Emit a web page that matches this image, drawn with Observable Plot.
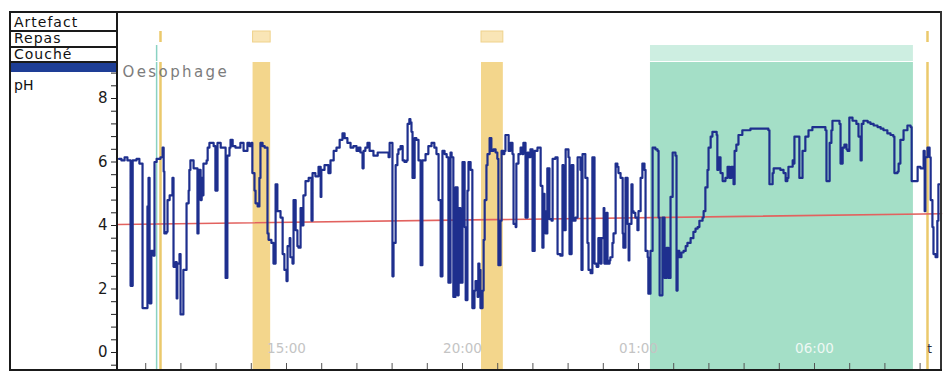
<!DOCTYPE html>
<html><head><meta charset="utf-8">
<script src="https://cdn.jsdelivr.net/npm/d3@7"></script>
<script src="https://cdn.jsdelivr.net/npm/@observablehq/plot@0.6"></script>
<style>
body{margin:0;background:#fff;font-family:"DejaVu Sans",Verdana,sans-serif;}
#wrap{position:relative;width:944px;height:374px;overflow:hidden;background:#fff}
.abs{position:absolute}
.ln{position:absolute;background:#1a1a1a}
.lbl{position:absolute;left:14px;font-size:14px;letter-spacing:1px;color:#111;line-height:14px;height:14px;white-space:nowrap}
</style></head><body>
<div id="wrap">
  <div id="strip" class="abs" style="left:0;top:12px"></div>
  <div id="main" class="abs" style="left:0;top:62px"></div>
  <div class="ln" style="left:10px;top:11px;width:932px;height:2px"></div>
  <div class="ln" style="left:9px;top:11px;width:2px;height:360px"></div>
  <div class="ln" style="left:116px;top:11px;width:2px;height:360px"></div>
  <div class="ln" style="left:940px;top:11px;width:2px;height:360px;background:#333"></div>
  <div class="ln" style="left:10px;top:369px;width:932px;height:2px"></div>
  <div class="ln" style="left:10px;top:30px;width:107px;height:1.5px"></div>
  <div class="ln" style="left:10px;top:46px;width:107px;height:1.5px"></div>
  <div class="ln" style="left:10px;top:61px;width:107px;height:1.5px"></div>
  <div class="abs" style="left:11px;top:63px;width:105px;height:9px;background:#1e3e96"></div>
  <div class="lbl" style="top:15px">Artefact</div>
  <div class="lbl" style="top:31px">Repas</div>
  <div class="lbl" style="top:46.5px">Couché</div>
  <div class="lbl" style="top:78px;letter-spacing:0">pH</div>
</div>
<script>
// ---- data (time in hours from midnight of day 1; 25 = 01:00 next day) ----
const rows = ["Artefact", "Repas", "Couché"];
const mealStart = [14.05, 20.54];
const mealEnd = [14.55, 21.16];
const supineStart = [25.34];
const supineEnd = [32.81];
const eventMarks = [11.42, 33.21];
const positionMarks = [11.31];
const hourTicks = [11,12,13,14,15,16,17,18,19,20,21,22,23,24,25,26,27,28,29,30,31,32,33];
const timeLabelHours = [15, 20, 25, 30];
const timeLabels = ["15:00", "20:00", "01:00", "06:00"];
const phMajor = [0, 2, 4, 6, 8];
const phMinor = [-0.4,0.4,0.8,1.2,1.6,2.4,2.8,3.2,3.6,4.4,4.8,5.2,5.6,6.4,6.8,7.2,7.6,8.4,8.8];
const thresholdLine = [[10.227, 4.03], [33.608, 4.37]];
const channelName = "Oesophage";
const trace = [
[10.24,6.1],[10.31,6.05],[10.40,6.15],[10.48,6.05],[10.57,2.1],[10.63,6.05],[10.74,6.1],[10.82,5.95],
[10.91,1.4],[11.05,4.6],[11.08,5.5],[11.11,1.55],[11.16,3.2],[11.22,3.05],[11.25,6.0],[11.31,6.1],
[11.42,6.15],[11.48,6.45],[11.51,5.7],[11.53,3.75],[11.59,3.8],[11.62,4.8],[11.68,4.95],[11.76,5.5],
[11.79,2.7],[11.85,2.85],[11.88,1.7],[11.90,2.8],[11.96,3.1],[11.99,1.2],[12.07,2.6],[12.16,4.7],
[12.22,5.1],[12.24,5.75],[12.27,6.05],[12.36,5.8],[12.47,3.75],[12.50,5.75],[12.56,4.8],[12.59,5.5],
[12.61,4.95],[12.64,5.95],[12.73,6.05],[12.76,6.45],[12.81,6.6],[12.93,6.5],[12.98,5.1],[13.04,6.6],
[13.13,6.45],[13.27,2.35],[13.32,6.2],[13.38,6.45],[13.41,6.7],[13.47,6.5],[13.55,6.45],[13.69,6.6],
[13.78,6.35],[13.89,6.6],[13.95,6.5],[14.01,6.6],[14.03,5.65],[14.09,5.1],[14.12,4.7],[14.18,4.6],
[14.23,5.5],[14.26,6.6],[14.32,6.5],[14.38,6.45],[14.46,3.75],[14.49,3.55],[14.57,3.45],[14.63,2.8],
[14.69,5.3],[14.74,4.45],[14.83,4.25],[14.89,3.1],[14.94,2.6],[15.00,2.25],[15.03,3.35],[15.09,3.6],
[15.11,3.0],[15.17,2.8],[15.20,4.8],[15.26,3.85],[15.31,3.35],[15.34,3.3],[15.40,4.55],[15.45,4.0],
[15.48,4.95],[15.54,5.4],[15.63,5.5],[15.71,4.15],[15.74,5.65],[15.82,5.55],[15.91,5.85],[15.97,4.9],
[15.99,5.75],[16.08,5.9],[16.19,5.65],[16.25,6.05],[16.34,6.35],[16.42,6.45],[16.51,6.7],[16.59,6.9],
[16.65,6.75],[16.73,6.6],[16.82,6.45],[16.90,6.5],[16.99,6.35],[17.05,6.45],[17.10,6.3],[17.16,5.8],
[17.19,6.35],[17.24,6.45],[17.30,6.6],[17.36,6.35],[17.47,6.2],[17.59,6.3],[17.67,6.3],[17.90,6.15],
[17.93,6.6],[18.01,2.4],[18.04,3.45],[18.10,5.9],[18.15,6.25],[18.18,6.4],[18.24,6.5],[18.30,6.05],
[18.35,6.0],[18.41,6.05],[18.44,7.2],[18.49,7.35],[18.52,7.25],[18.55,6.95],[18.58,5.5],[18.64,6.75],
[18.69,6.7],[18.75,6.05],[18.81,2.75],[18.86,6.05],[18.95,6.25],[19.03,6.5],[19.12,6.6],[19.20,6.45],
[19.26,6.25],[19.32,4.8],[19.38,2.4],[19.43,6.35],[19.49,6.25],[19.55,6.15],[19.60,2.2],[19.66,6.3],
[19.69,6.15],[19.74,1.75],[19.80,5.2],[19.86,1.8],[19.89,4.55],[19.94,2.2],[20.00,6.0],[20.06,3.95],
[20.09,1.65],[20.14,5.1],[20.17,6.0],[20.23,5.75],[20.28,1.4],[20.34,1.95],[20.37,2.25],[20.43,1.75],
[20.45,2.8],[20.48,2.6],[20.51,1.4],[20.57,1.95],[20.60,3.55],[20.63,4.8],[20.68,5.9],[20.71,6.25],
[20.77,6.75],[20.82,6.35],[20.88,6.4],[20.94,6.3],[20.99,6.1],[21.02,2.75],[21.08,4.15],[21.11,6.35],
[21.16,6.25],[21.19,6.35],[21.22,6.85],[21.31,6.35],[21.36,6.6],[21.42,6.25],[21.45,4.05],[21.51,3.95],
[21.53,5.95],[21.59,6.25],[21.65,6.45],[21.70,6.25],[21.73,6.6],[21.79,4.25],[21.85,6.3],[21.88,6.15],
[21.93,6.4],[21.99,3.2],[22.05,6.35],[22.13,6.45],[22.19,6.45],[22.22,5.25],[22.27,3.3],[22.30,5.0],
[22.33,4.45],[22.36,3.75],[22.41,5.8],[22.47,4.2],[22.53,4.15],[22.56,6.1],[22.64,6.15],[22.70,3.1],
[22.78,3.05],[22.84,5.9],[22.87,3.85],[22.93,6.4],[23.01,6.15],[23.04,3.1],[23.10,5.9],[23.15,4.15],
[23.21,4.25],[23.27,6.15],[23.35,5.75],[23.38,2.6],[23.41,6.25],[23.49,5.5],[23.55,3.45],[23.58,2.6],
[23.64,2.5],[23.69,6.15],[23.75,2.8],[23.81,2.7],[23.86,3.6],[23.92,2.8],[23.95,3.6],[24.01,4.55],
[24.03,2.8],[24.09,4.4],[24.12,2.8],[24.18,2.9],[24.20,3.0],[24.26,3.45],[24.29,3.75],[24.35,5.95],
[24.40,5.85],[24.43,5.65],[24.49,5.5],[24.55,3.75],[24.57,3.3],[24.63,5.5],[24.69,4.05],[24.72,2.9],
[24.74,4.05],[24.80,5.3],[24.83,4.45],[24.86,4.4],[24.91,4.25],[24.97,3.85],[25.00,4.45],[25.06,5.5],
[25.11,5.95],[25.17,5.75],[25.20,3.2],[25.26,3.0],[25.28,1.85],[25.34,3.2],[25.40,6.45],[25.48,6.4],
[25.54,6.35],[25.57,4.25],[25.60,1.8],[25.68,4.25],[25.74,2.35],[25.80,3.3],[25.85,2.35],[25.91,4.9],
[25.97,6.3],[26.05,6.2],[26.08,1.95],[26.11,3.2],[26.16,3.0],[26.22,3.15],[26.28,3.2],[26.34,3.35],
[26.39,3.45],[26.48,3.6],[26.56,3.8],[26.62,3.9],[26.68,3.95],[26.73,4.15],[26.82,4.25],[26.85,4.45],
[26.90,5.2],[26.96,5.75],[26.99,6.45],[27.05,6.8],[27.10,6.95],[27.22,6.85],[27.24,5.75],[27.27,6.15],
[27.33,5.65],[27.39,5.4],[27.47,5.5],[27.53,5.85],[27.59,5.5],[27.64,5.85],[27.70,5.3],[27.73,6.35],
[27.78,6.55],[27.84,6.85],[27.95,7.0],[28.18,7.05],[28.69,7.0],[28.72,5.3],[28.81,5.65],[28.84,5.8],
[28.95,5.8],[29.03,5.75],[29.12,5.65],[29.18,5.4],[29.23,5.5],[29.26,5.85],[29.38,6.05],[29.40,5.95],
[29.43,6.8],[29.52,6.8],[29.57,5.5],[29.66,6.35],[29.74,6.8],[29.83,7.0],[29.94,7.1],[30.26,7.1],
[30.31,7.0],[30.34,5.4],[30.43,6.6],[30.48,7.0],[30.51,7.3],[30.65,7.3],[30.71,7.2],[30.74,5.95],
[30.80,6.45],[30.85,6.55],[30.91,6.4],[30.94,6.35],[30.99,7.4],[31.08,7.3],[31.16,7.3],[31.19,7.2],
[31.25,6.8],[31.31,6.05],[31.34,7.2],[31.39,7.3],[31.51,7.25],[31.59,7.2],[31.68,7.15],[31.79,7.1],
[31.88,7.05],[31.96,7.0],[32.07,6.9],[32.16,6.85],[32.24,6.8],[32.27,5.65],[32.36,5.7],[32.39,5.95],
[32.44,6.7],[32.53,7.0],[32.64,7.15],[32.73,7.1],[32.76,5.4],[32.90,5.4],[32.93,5.85],[33.01,5.8],
[33.10,6.35],[33.13,4.45],[33.15,6.15],[33.21,6.45],[33.27,6.15],[33.30,4.8],[33.35,3.95],[33.38,3.1],
[33.44,3.0],[33.49,4.15],[33.52,5.3],[33.60,5.25]
];

// ---- layout/styles ----
const W = 944;
const xDomain = [10.227, 33.608];
const yDomain = [-0.567, 9.134];
const meals = mealStart.map((s, i) => ({s, e: mealEnd[i]}));
const supine = supineStart.map((s, i) => ({s, e: supineEnd[i]}));

const strip = Plot.plot({
  width: W, height: 50, marginLeft: 118, marginRight: 3, marginTop: 0, marginBottom: 0,
  x: {domain: xDomain, axis: null},
  y: {domain: rows, axis: null, padding: 0},
  style: {background: "transparent"},
  marks: [
    Plot.barX(supine, {x1: "s", x2: "e", y: () => "Couché", fill: "#cdeee1"}),
    Plot.barX(meals, {x1: "s", x2: "e", y: () => "Repas", fill: "#f9e5b6", stroke: "#efd28c", insetTop: 2, insetBottom: 3}),
    Plot.tickX(eventMarks, {x: d => d, y: () => "Repas", stroke: "#ebc96c", strokeWidth: 2.5, insetTop: 2, insetBottom: 3}),
    Plot.tickX(positionMarks, {x: d => d, y: () => "Couché", stroke: "#8ad2c2", strokeWidth: 1.5}),
    Plot.frame({anchor: "bottom", stroke: "#c2c2cc"})
  ]
});
document.getElementById("strip").appendChild(strip);

const main = Plot.plot({
  width: W, height: 308, marginLeft: 118, marginRight: 3, marginTop: 0, marginBottom: 0,
  x: {domain: xDomain, axis: null},
  y: {domain: yDomain, axis: null},
  style: {background: "transparent", fontFamily: "DejaVu Sans, Verdana, sans-serif"},
  marks: [
    Plot.rect(supine, {x1: "s", x2: "e", y1: () => yDomain[0], y2: () => yDomain[1], fill: "#a4dfc7"}),
    Plot.rect(meals, {x1: "s", x2: "e", y1: () => yDomain[0], y2: () => yDomain[1], fill: "#f3d68c"}),
    Plot.ruleX(positionMarks, {x: d => d, stroke: "#8ad2c2", strokeWidth: 1.5}),
    Plot.ruleX(eventMarks, {x: d => d, stroke: "#ebc96c", strokeWidth: 2.5}),
    Plot.ruleX(hourTicks, {x: d => d, insetTop: 301, stroke: "#555", strokeWidth: 1}),
    Plot.text(timeLabelHours.filter(h => h !== 30), {x: d => d, text: d => timeLabels[timeLabelHours.indexOf(d)], frameAnchor: "bottom", dy: -18, fill: "#c4c4c4", fontSize: 13.5}),
    Plot.text(timeLabelHours.filter(h => h === 30), {x: d => d, text: d => timeLabels[timeLabelHours.indexOf(d)], frameAnchor: "bottom", dy: -18, fill: "#eef8f4", fontSize: 13.5}),
    Plot.text(["t"], {x: () => eventMarks[1], frameAnchor: "bottom", dy: -18, dx: 2, fill: "#333", fontSize: 12}),
    Plot.line(thresholdLine, {x: d => d[0], y: d => d[1], stroke: "#e2625f", strokeWidth: 1.6}),
    Plot.line(trace, {x: d => d[0], y: d => d[1], curve: "step-after", stroke: "#1e2f8e", strokeWidth: 2.2, clip: true}),
    Plot.text([channelName], {frameAnchor: "top-left", dx: 4, dy: 4, textAnchor: "start", fill: "#7c7c7c", fontSize: 15}),
    Plot.axisY(phMinor, {anchor: "left", tickSize: 7, tickFormat: () => "", stroke: "#222"}),
    Plot.axisY(phMajor, {anchor: "left", tickSize: 7, tickPadding: 4, fontSize: 15, fill: "#1a1a1a", stroke: "#222"})
  ]
});
document.getElementById("main").appendChild(main);
d3.select(main).selectAll("text").filter(function(){ return this.textContent === channelName; }).style("letter-spacing", "2.4px");
</script>
</body></html>
